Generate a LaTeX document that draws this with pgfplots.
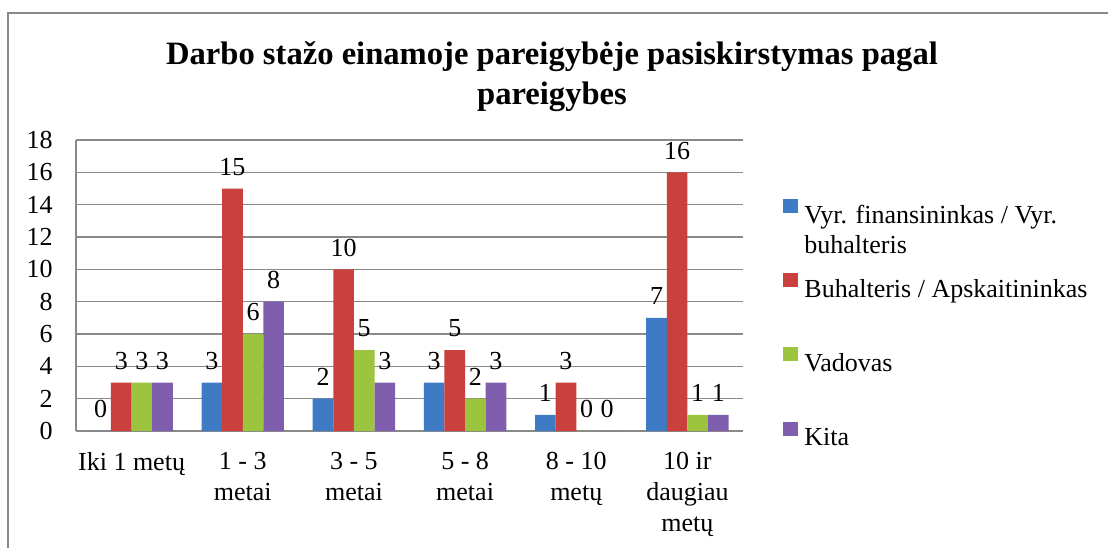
\documentclass[border=0pt]{standalone}
\usepackage{fontspec}
\setmainfont{Liberation Serif}
\usepackage{pgfplots}
\usepackage{pgfplotstable}
\pgfplotsset{compat=1.18}

\definecolor{cblue}{HTML}{3F7BC4}
\definecolor{cred}{HTML}{C9403D}
\definecolor{cgreen}{HTML}{9CC43E}
\definecolor{cpurple}{HTML}{7F5FAD}
\definecolor{gridgray}{HTML}{898989}

% stažas pagal pareigybes
\pgfplotstableread{
x blue red green purple
0 0 3 3 3
1 3 15 6 8
2 2 10 5 3
3 3 5 2 3
4 1 3 0 0
5 7 16 1 1
}\stazas

\newcommand{\lent}[1]{\parbox[t]{150pt}{#1}}

\begin{document}
\begin{tikzpicture}
\useasboundingbox (0,0) rectangle (554pt,273.5pt);
\draw[gridgray, line width=0.75pt] (4pt,-5pt) -- (4pt,267pt) -- (560pt,267pt);
\node[font=\fontsize{16.3}{20}\selectfont\bfseries, align=center, anchor=north, inner sep=0pt]
  at (276pt,253pt) {Darbo stažo einamoje pareigybėje pasiskirstymas pagal\\pareigybes};
\begin{axis}[
  at={(38pt,58pt)}, anchor=south west,
  scale only axis, width=333.5pt, height=145.5pt,
  ybar=0pt, bar width=10.3pt,
  xmin=-0.5, xmax=5.5, ymin=0, ymax=18,
  xtick={0,...,5}, ytick={0,2,...,18},
  xticklabels={{Iki 1 metų},{1 - 3\\metai},{3 - 5\\metai},{5 - 8\\metai},{8 - 10\\metų},{10 ir\\daugiau\\metų}},
  axis x line*=bottom, axis y line*=left,
  axis line style={gridgray, line width=0.75pt},
  ymajorgrids, grid style={gridgray, line width=0.75pt},
  major tick length=0pt,
  /pgf/number format/assume math mode=true,
  tick label style={font=\fontsize{13}{15.5}\selectfont},
  yticklabel style={anchor=east, inner sep=0pt, xshift=-11.5pt},
  xticklabel style={anchor=north, inner sep=0pt, yshift=-10.5pt, align=center},
  nodes near coords,
  every node near coord/.append style={font=\fontsize{13}{15.5}\selectfont, text=black, yshift=3pt},
  legend cell align=left,
  legend style={at={(1.06,0.80)}, anchor=north west, draw=none, fill=none,
    inner sep=0pt, row sep=23.4pt, column sep=3pt,
    nodes={inner sep=0pt}, font=\fontsize{13}{15}\selectfont},
  legend image code/.code={\fill[#1] (0pt,1.5pt) rectangle (7.5pt,8.5pt);},
]
\addplot[draw=none, fill=cblue] table[x=x, y=blue] {\stazas};
\addplot[draw=none, fill=cred] table[x=x, y=red] {\stazas};
\addplot[draw=none, fill=cgreen] table[x=x, y=green] {\stazas};
\addplot[draw=none, fill=cpurple] table[x=x, y=purple] {\stazas};
\legend{\lent{Vyr. finansininkas / Vyr.\\buhalteris},\lent{Buhalteris / Apskaitininkas},\lent{Vadovas},\lent{Kita}}
\end{axis}
\end{tikzpicture}
\end{document}
